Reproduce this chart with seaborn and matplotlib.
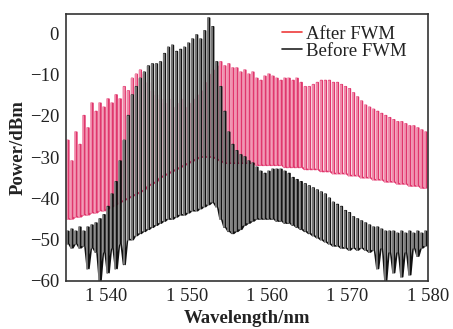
import numpy as np
import pandas as pd
import matplotlib
matplotlib.use("Agg")
import matplotlib.pyplot as plt
import seaborn as sns
from matplotlib.lines import Line2D

# ---------------- data ----------------
comb_wavelength = [
    1535.25, 1535.75, 1536.25, 1536.75, 1537.25, 1537.75, 1538.25, 1538.75, 1539.25, 1539.75,
    1540.25, 1540.75, 1541.25, 1541.75, 1542.25, 1542.75, 1543.25, 1543.75, 1544.25, 1544.75,
    1545.25, 1545.75, 1546.25, 1546.75, 1547.25, 1547.75, 1548.25, 1548.75, 1549.25, 1549.75,
    1550.25, 1550.75, 1551.25, 1551.75, 1552.25, 1552.75, 1553.25, 1553.75, 1554.25, 1554.75,
    1555.25, 1555.75, 1556.25, 1556.75, 1557.25, 1557.75, 1558.25, 1558.75, 1559.25, 1559.75,
    1560.25, 1560.75, 1561.25, 1561.75, 1562.25, 1562.75, 1563.25, 1563.75, 1564.25, 1564.75,
    1565.25, 1565.75, 1566.25, 1566.75, 1567.25, 1567.75, 1568.25, 1568.75, 1569.25, 1569.75,
    1570.25, 1570.75, 1571.25, 1571.75, 1572.25, 1572.75, 1573.25, 1573.75, 1574.25, 1574.75,
    1575.25, 1575.75, 1576.25, 1576.75, 1577.25, 1577.75, 1578.25, 1578.75, 1579.25, 1579.75,
]

after_peak = [
    -26, -31, -24, -27, -20, -23, -17, -19, -17, -18,
    -16, -17, -15, -16, -13, -14, -11, -10, -9, -10,
    -12, -14, -15, -16, -17, -16, -18, -17, -16, -18,
    -17, -16, -15, -14, -12, -10, -9, -8, -7, -8,
    -7.5, -8.5, -8.5, -9.5, -9, -10, -9.5, -11, -11.5, -10.5,
    -10, -10.5, -11, -11.5, -11, -11, -11.5, -11, -12, -13,
    -13, -12.5, -12, -11.5, -11.5, -11.5, -12, -12, -12.5, -13,
    -13.5, -14.5, -15.5, -16.5, -17.5, -18, -18.5, -19, -19.5, -20,
    -20.5, -21, -21.5, -21.5, -22, -22.5, -22.5, -23, -23.5, -24,
]
after_floor = [
    -45, -45, -44.5, -44.5, -44, -44, -43.5, -43.5, -43, -43,
    -42.5, -42, -41.5, -41, -40.5, -40, -39.5, -39, -38.5, -38,
    -37, -36.5, -36, -35, -34.5, -34, -33.5, -33, -32.5, -32,
    -31.5, -31, -30.5, -30, -30, -30, -30, -30.5, -31, -31.5,
    -31.5, -31.5, -31.5, -31.5, -31.5, -31.5, -31.5, -32, -32, -32,
    -32, -32, -32, -32, -32.5, -32.5, -32.5, -32.5, -32.5, -33,
    -33, -33, -33, -33.5, -33.5, -33.5, -34, -34, -34, -34,
    -34.5, -34.5, -34.5, -35, -35, -35, -35.5, -35.5, -35.5, -36,
    -36, -36, -36.5, -36.5, -36.5, -37, -37, -37, -37.5, -37.5,
]

before_peak = [
    -48, -47.5, -48, -47, -48, -47, -46.5, -46, -45, -44,
    -42, -39, -36, -31, -26, -20, -15, -13, -11, -9.5,
    -8, -7.5, -7.5, -7, -5, -3.5, -3, -4.5, -4, -3.5,
    -2.5, -1.5, -0.5, -1.5, 0.5, 3.6, 1.5, -7, -13, -19,
    -24, -27, -28.5, -29.5, -30, -31, -31.5, -32.5, -33.5, -34,
    -33.5, -33, -33, -33, -33.5, -34, -35, -35.5, -36, -36.5,
    -37, -37.5, -38, -38.5, -39, -40, -41, -41.5, -42, -43,
    -43.5, -44.5, -45, -45.5, -46, -46.5, -47, -47, -47.5, -48,
    -48, -48, -48.5, -48, -48.5, -48, -48.5, -48, -48.5, -48,
]
before_floor = [
    -51, -52, -51, -52, -51.5, -57, -52, -53, -60, -53,
    -58, -52, -57, -51, -56, -50, -50, -49, -48.5, -48,
    -47.5, -47, -46.5, -46, -45.5, -45, -45, -44.5, -44, -44,
    -43.5, -43, -43, -42.5, -42, -41.5, -41, -42, -45, -47,
    -48, -48.5, -48, -47.5, -46.5, -46, -45.5, -45, -45, -45,
    -45, -45, -45.5, -45.5, -46, -46, -46.5, -47, -47.5, -48,
    -48.5, -49, -49.5, -50, -50.5, -51, -51.5, -51.5, -52, -52,
    -52.5, -52, -52.5, -52, -52.5, -53, -52.5, -57, -52, -60,
    -53, -58, -53, -59, -53, -58.5, -52, -54, -52, -51.5,
]

series_labels = ["After FWM", "Before FWM"]
x_ticks = [1540, 1550, 1560, 1570, 1580]
x_tick_labels = ["1 540", "1 550", "1 560", "1 570", "1 580"]
y_ticks = [-60, -50, -40, -30, -20, -10, 0]
y_tick_labels = ["\u221260", "\u221250", "\u221240", "\u221230", "\u221220", "\u221210", "0"]


def comb_path(wl, peak, floor, half=0.1):
    """Continuous trace: floor -> peak -> floor for every comb line."""
    xs, ys = [], []
    for w, p, f in zip(wl, peak, floor):
        xs += [w - half, w - half, w + half, w + half]
        ys += [f, p, p, f]
    return pd.DataFrame({"wl": xs, "pw": ys})


def rising_edges(wl, peak, floor, half=0.1):
    """One short vertical segment per comb line (the lighter stroke)."""
    xs, ys, units = [], [], []
    for i, (w, p, f) in enumerate(zip(wl, peak, floor)):
        xs += [w - half, w - half]
        ys += [f, p]
        units += [i, i]
    return pd.DataFrame({"wl": xs, "pw": ys, "line": units})


sns.set_theme(style="white")
plt.rcParams["font.family"] = ["Liberation Serif", "DejaVu Serif"]

fig = plt.figure(figsize=(4.53, 3.29), dpi=100)
ax = fig.add_axes([0.1457, 0.1459, 0.7991, 0.8115])

red_dark, red_light = "#E0356C", "#F49BB6"
blk_dark, blk_light = "#111111", "#8C8C8C"
lw = 1.15

sns.lineplot(data=comb_path(comb_wavelength, after_peak, after_floor), x="wl", y="pw",
             sort=False, estimator=None, color=red_dark, lw=lw, ax=ax, legend=False)
sns.lineplot(data=rising_edges(comb_wavelength, after_peak, after_floor), x="wl", y="pw",
             units="line", sort=False, estimator=None, color=red_light, lw=lw, ax=ax,
             legend=False)

sns.lineplot(data=comb_path(comb_wavelength, before_peak, before_floor), x="wl", y="pw",
             sort=False, estimator=None, color=blk_dark, lw=lw, ax=ax, legend=False)
sns.lineplot(data=rising_edges(comb_wavelength, before_peak, before_floor), x="wl", y="pw",
             units="line", sort=False, estimator=None, color=blk_light, lw=lw, ax=ax,
             legend=False)

handles = [Line2D([], [], color="#EE3B3B", lw=1.2),
           Line2D([], [], color="#222222", lw=1.2)]
leg = ax.legend(handles, series_labels, loc="upper left", bbox_to_anchor=(0.575, 0.985),
                frameon=False, fontsize=13.5, handlelength=1.1, handletextpad=0.2,
                labelspacing=0.0, borderaxespad=0.0)
for t in leg.get_texts():
    t.set_color("#222222")

ax.set_xlim(1535, 1580)
ax.set_ylim(-60, 4.6)
ax.set_xticks(x_ticks)
ax.set_xticklabels(x_tick_labels)
ax.set_yticks(y_ticks)
ax.set_yticklabels(y_tick_labels)
ax.tick_params(direction="in", length=4, width=1, colors="#222222", labelsize=13.5, pad=5)
ax.set_xlabel("Wavelength/nm", fontsize=13.5, fontweight="bold", labelpad=4, color="#222222")
ax.set_ylabel("Power/dBm", fontsize=13.5, fontweight="bold", labelpad=2, color="#222222")
for s in ax.spines.values():
    s.set_visible(True)
    s.set_color("#333333")
    s.set_linewidth(1.2)

fig.savefig("out.png", dpi=100, facecolor="white")
